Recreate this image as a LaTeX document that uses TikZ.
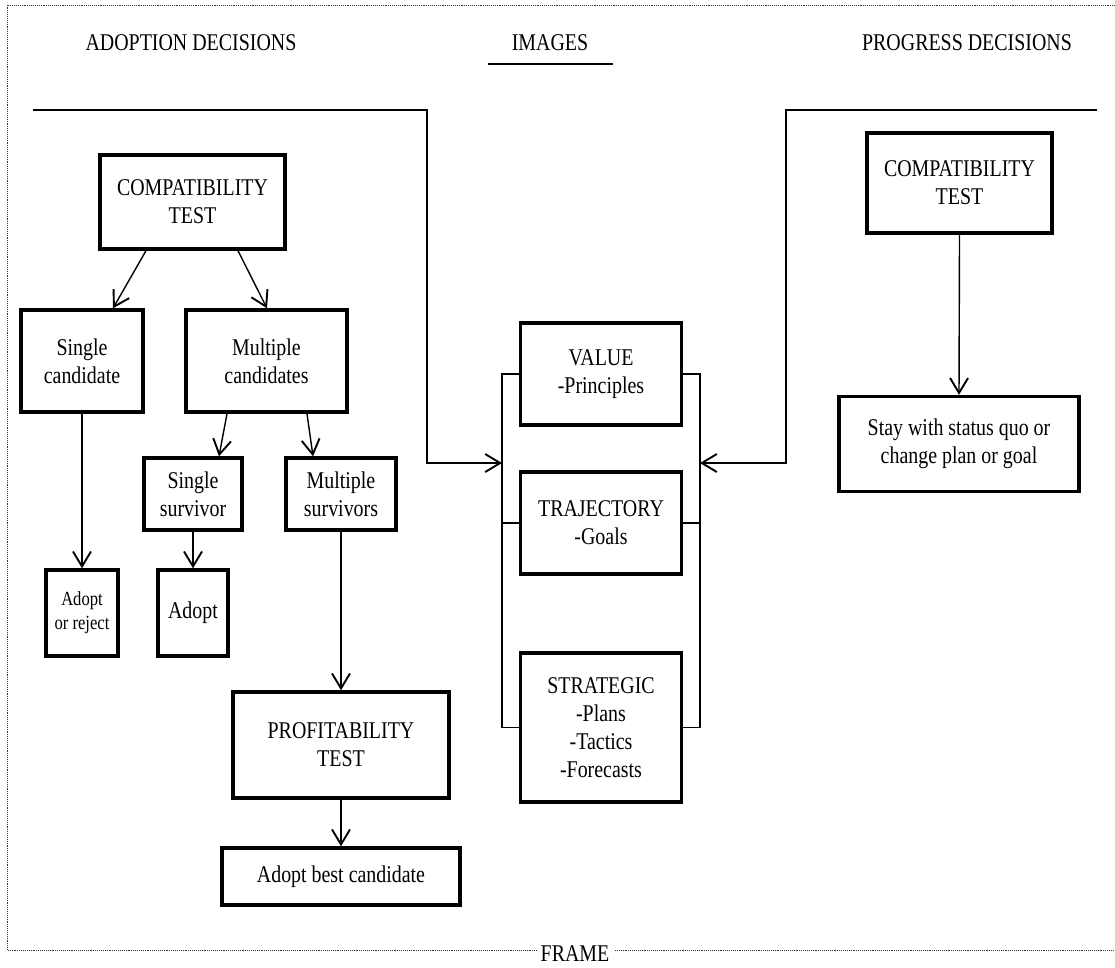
\documentclass[tikz,border=0pt]{standalone}
\usepackage{fontspec}
\setmainfont[FakeStretch=0.83]{Liberation Serif}
\usetikzlibrary{arrows.meta,calc}
\begin{document}
\begin{tikzpicture}[x=1pt,y=-1pt,
  box/.style={draw, line width=3.4pt, align=center, inner sep=0pt,
    font=\fontsize{24}{28}\selectfont},
  smallbox/.style={box, font=\fontsize{20}{24}\selectfont},
  conn/.style={line width=1.4pt},
  arr/.style={conn, -{Straight Barb[length=15pt,width=18pt,line width=1.9pt]}},
  heading/.style={font=\fontsize{24}{28}\selectfont, inner sep=0pt},
  frameline/.style={line width=0.9pt, densely dotted, black!80}]
\useasboundingbox (0,0) rectangle (1115,967);

% column headings
\node[heading] (hA) at (191,43) {ADOPTION DECISIONS};
\node[heading] (hI) at (550,43) {IMAGES};
\draw[line width=1.6pt] ($(hI.center)+(-62,21)$) -- ++(125,0);
\node[heading] (hP) at (967,43) {PROGRESS DECISIONS};

% outer frame with its label
\node[heading] (fr) at (575,954) {FRAME};
\draw[frameline] (1115,5) -- (7,5) -- (7,950) -- (537,950);
\draw[frameline] (615,950) -- (1115,950);

% adoption decisions
\node[box, minimum width=185pt, minimum height=94pt] (ctL) at (192.5,202) {COMPATIBILITY\\TEST};
\node[box, minimum width=122pt, minimum height=102pt] (sc) at (82,361) {Single\\candidate};
\node[box, minimum width=161pt, minimum height=102pt] (mc) at (266.5,361) {Multiple\\candidates};
\node[box, minimum width=98pt, minimum height=72pt] (ss) at (193,494) {Single\\survivor};
\node[box, minimum width=110pt, minimum height=72pt] (ms) at (341,494) {Multiple\\survivors};
\node[smallbox, minimum width=72pt, minimum height=86pt] (aor) at (82,613) {Adopt\\or reject};
\node[box, minimum width=70pt, minimum height=86pt] (adp) at (193,613) {Adopt};
\node[box, minimum width=216pt, minimum height=106pt] (pt) at (341,745) {PROFITABILITY\\TEST};
\node[box, minimum width=238pt, minimum height=57pt] (abc) at (341,876.5) {Adopt best candidate};

\draw[arr] ($(ctL.south)+(-46.5,0)$) -- ($(sc.north)+(31,0)$);
\draw[arr] ($(ctL.south)+(45.5,0)$) -- ($(mc.north)+(0.5,0)$);
\draw[arr] (sc.south) -- (aor.north);
\draw[arr] ($(mc.south)+(-39.5,0)$) -- ($(ss.north)+(26,0)$);
\draw[arr] ($(mc.south)+(40.5,0)$) -- ($(ms.north)+(-28,0)$);
\draw[arr] (ss.south) -- (adp.north);
\draw[arr] (ms.south) -- (pt.north);
\draw[arr] (pt.south) -- (abc.north);

% images
\node[box, minimum width=161pt, minimum height=102pt] (val) at (601,374) {VALUE\\-Principles};
\node[box, minimum width=161pt, minimum height=102pt] (trj) at (601,523) {TRAJECTORY\\-Goals};
\node[box, minimum width=161pt, minimum height=149pt] (str) at (601,727.5) {STRATEGIC\\-Plans\\-Tactics\\-Forecasts};

\coordinate (brL) at (502,463);
\coordinate (brR) at (700,463);
\draw[conn] (val.west) -- (val.west -| brL) -- (str.west -| brL) -- (str.west);
\draw[conn] (trj.west) -- (trj.west -| brL);
\draw[conn] (val.east) -- (val.east -| brR) -- (str.east -| brR) -- (str.east);
\draw[conn] (trj.east) -- (trj.east -| brR);

% inputs from both sides
\coordinate (inL) at (33,110);
\coordinate (inR) at (1097,110);
\draw[arr] (inL) -- ++(394,0) |- (brL);
\draw[arr] (inR) -- ++(-311,0) |- (brR);

% progress decisions
\node[box, minimum width=185pt, minimum height=100pt] (ctR) at (959.5,183) {COMPATIBILITY\\TEST};
\node[box, minimum width=240pt, minimum height=95pt] (sty) at (959,444) {Stay with status quo or\\change plan or goal};
\draw[arr] (ctR.south) -- (sty.north);
\end{tikzpicture}
\end{document}
